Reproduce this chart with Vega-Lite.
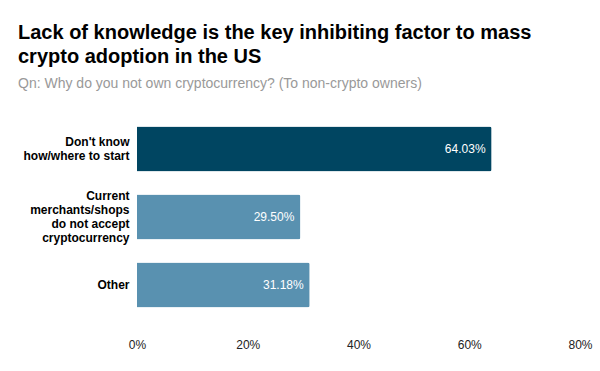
{
  "$schema": "https://vega.github.io/schema/vega-lite/v6.json",
  "autosize": "none",
  "width": 443,
  "height": 204,
  "padding": {"left": 137, "top": 115, "right": 20, "bottom": 52},
  "background": "white",
  "config": {"view": {"stroke": null}, "font": "Liberation Sans"},
  "title": {
    "text": ["Lack of knowledge is the key inhibiting factor to mass", "crypto adoption in the US"],
    "subtitle": "Qn: Why do you not own cryptocurrency? (To non-crypto owners)",
    "anchor": "start",
    "frame": "group",
    "dx": -119,
    "fontSize": 20,
    "fontWeight": "bold",
    "color": "#000000",
    "lineHeight": 24,
    "subtitleFontSize": 14,
    "subtitleColor": "#999999",
    "subtitlePadding": 10,
    "offset": 24
  },
  "data": {
    "values": [
      {"reason": "Don't know|how/where to start", "pct": 64.03, "highlight": "yes"},
      {"reason": "Current|merchants/shops|do not accept|cryptocurrency", "pct": 29.5, "highlight": "no"},
      {"reason": "Other", "pct": 31.18, "highlight": "no"}
    ]
  },
  "encoding": {
    "y": {
      "field": "reason",
      "type": "nominal",
      "sort": null,
      "title": null,
      "scale": {"paddingInner": 0.34, "paddingOuter": 0.17},
      "axis": {
        "labelExpr": "split(datum.label, '|')",
        "labelFontWeight": "bold",
        "labelFontSize": 12,
        "labelColor": "#000000",
        "labelLineHeight": 14,
        "labelPadding": 8,
        "labelOffset": {"condition": [{"test": "datum.value == 'Other'", "value": 0}, {"test": "indexof(datum.value, 'Current') == 0", "value": -21}], "value": -7},
        "ticks": false,
        "domain": false,
        "labelLimit": 200
      }
    },
    "x": {
      "field": "pct",
      "type": "quantitative",
      "title": null,
      "scale": {"domain": [0, 80]},
      "axis": {
        "values": [0, 20, 40, 60, 80],
        "labelExpr": "datum.value + '%'",
        "grid": false,
        "ticks": false,
        "domain": false,
        "labelFlush": false,
        "labelAlign": "center",
        "labelFontSize": 12,
        "labelColor": "#222222",
        "labelPadding": 20
      }
    }
  },
  "layer": [
    {
      "mark": {"type": "bar", "cornerRadiusEnd": 2},
      "encoding": {
        "color": {
          "field": "highlight",
          "type": "nominal",
          "scale": {"domain": ["yes", "no"], "range": ["#004561", "#5991b0"]},
          "legend": null
        }
      }
    },
    {
      "transform": [{"calculate": "format(datum.pct, '.2f') + '%'", "as": "pct_label"}],
      "mark": {"type": "text", "align": "right", "dx": -6, "color": "white", "fontSize": 12},
      "encoding": {
        "text": {"field": "pct_label", "type": "nominal"}
      }
    }
  ]
}
